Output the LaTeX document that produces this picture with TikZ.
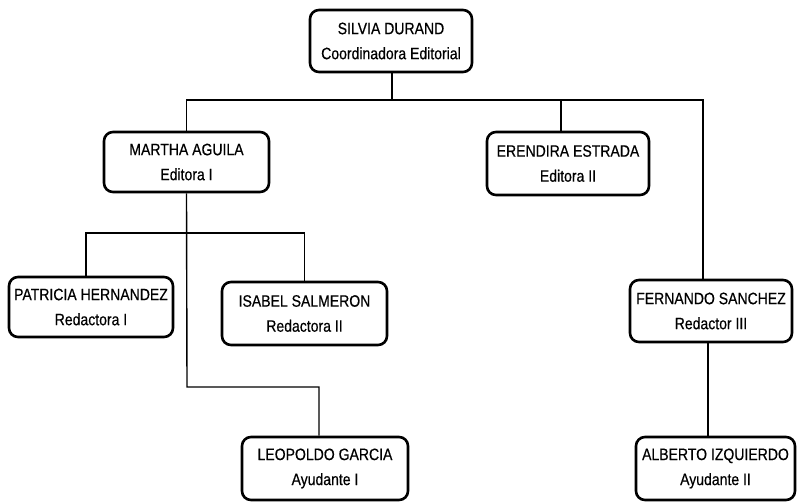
\documentclass[tikz,border=0pt]{standalone}
\usepackage{fontspec}
\setmainfont{Liberation Sans}[FakeStretch=0.85, FakeBold=0.5]

\begin{document}
\begin{tikzpicture}[x=1pt, y=-1pt,
    puesto/.style={draw, line width=2.6pt, rounded corners=9pt, minimum width=162pt,
                   minimum height=62pt, align=center, inner sep=2pt,
                   font=\fontsize{16.5}{25}\selectfont},
    linea/.style={line width=1.4pt}]
    \useasboundingbox (0,0) rectangle (797,501);

    %define the boxes of the chart
    \node[puesto] (silvia) at (391,41) {SILVIA DURAND\\Coordinadora Editorial};
    \node[puesto, minimum width=165pt, minimum height=60pt] (martha) at (186.5,162) {MARTHA AGUILA\\Editora I};
    \node[puesto, minimum height=63pt] (erendira) at (568,163.5) {ERENDIRA ESTRADA\\Editora II};
    \node[puesto, minimum width=164pt, minimum height=60pt] (patricia) at (91,307) {PATRICIA HERNANDEZ\\Redactora I};
    \node[puesto, minimum width=165pt, minimum height=63pt] (isabel) at (304.5,313.5) {ISABEL SALMERON\\Redactora II};
    \node[puesto] (fernando) at (711,311) {FERNANDO SANCHEZ\\Redactor III};
    \node[puesto, minimum width=166pt, minimum height=63pt] (leopoldo) at (325,468.5) {LEOPOLDO GARCIA\\Ayudante I};
    \node[puesto, minimum width=159pt, minimum height=63pt] (alberto) at (715.5,468.5) {ALBERTO IZQUIERDO\\Ayudante II};

    %define the junctions
    \coordinate (j1) at (392,100);
    \coordinate (j2) at (187,233);
    \coordinate (j3) at (187,387);

    %define the links
    \draw[linea] (silvia.south -| j1) -- (j1);
    \draw[linea] (martha.north) |- (j1) -| ([xshift=-8]fernando.north);
    \draw[linea] ([xshift=-7]erendira.north) -- ([xshift=-7]erendira.north |- j1);
    \draw[linea] ([xshift=-5]patricia.north) |- (j2) -| (isabel.north);
    \draw[linea] (martha.south) -- (j3) -| ([xshift=-6]leopoldo.north);
    \draw[linea] ([xshift=-3]fernando.south) -- ([xshift=-3]fernando.south |- alberto.north);
\end{tikzpicture}
\end{document}
